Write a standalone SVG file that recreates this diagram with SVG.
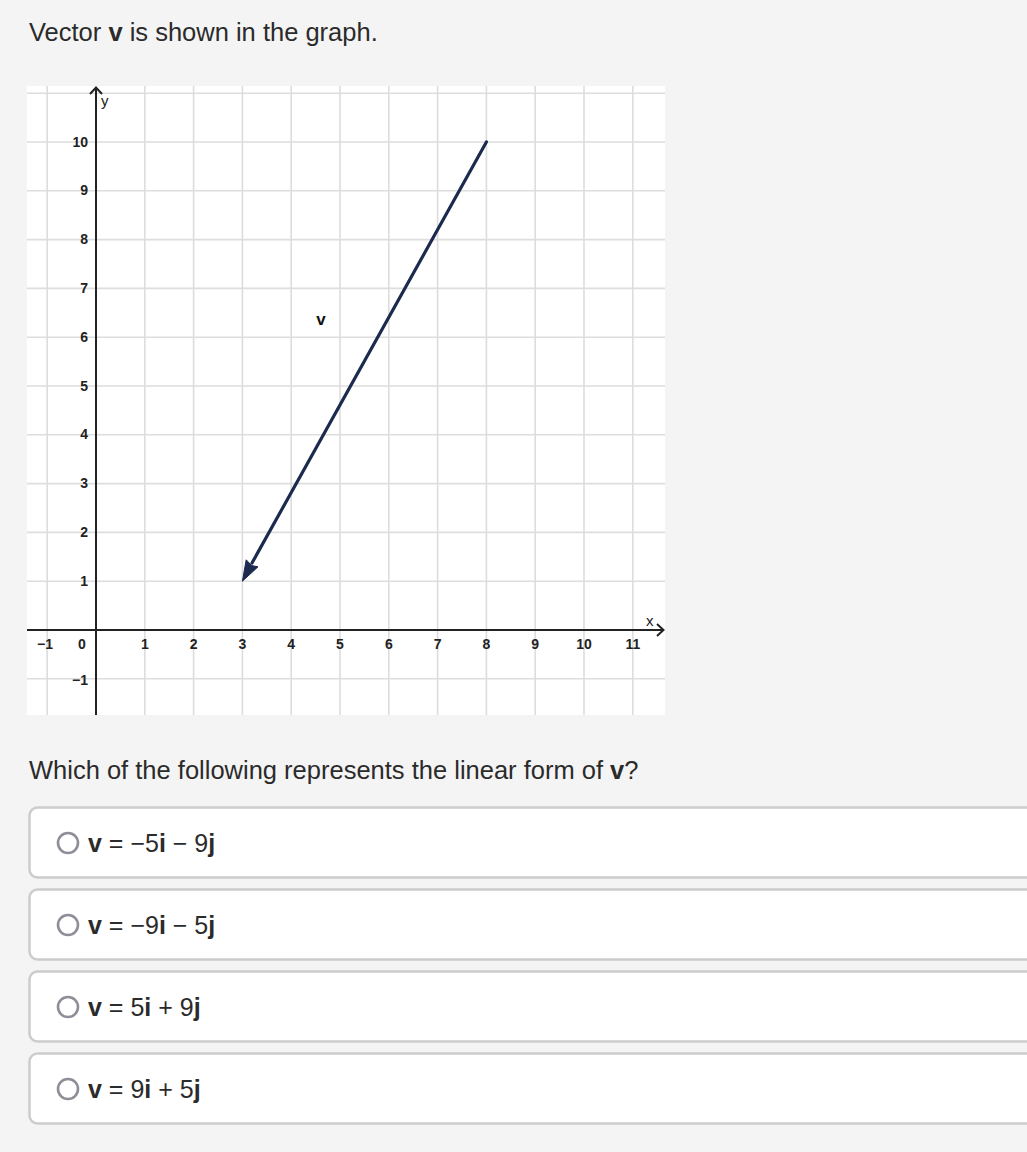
<svg xmlns="http://www.w3.org/2000/svg" width="1027" height="1152" viewBox="0 0 1027 1152">
<style>
.txt{font-family:"Liberation Sans",Arial,sans-serif;font-size:25px;fill:#2b2b2b}
.hd{font-size:25.5px}
.b{font-weight:bold}
.grid line{stroke:#dddddd;stroke-width:1.6}
.tick{font-family:"Liberation Sans",Arial,sans-serif;font-size:14px;font-weight:bold;fill:#222}
.ax{font-family:"Liberation Sans",Arial,sans-serif;font-size:15px;fill:#222}
.opt{fill:#ffffff;stroke:#cccccc;stroke-width:2.5}
.radio{fill:#ffffff;stroke:#8e8e99;stroke-width:2.6}
</style>
<rect x="0" y="0" width="1027" height="1152" fill="#f4f4f4"/>
<text id="title" class="txt hd" x="29" y="41">Vector <tspan class="b">v</tspan> is shown in the graph.</text>

<g id="graph">
<rect x="27" y="86" width="638" height="629" fill="#ffffff"/>
<g class="grid">
<line x1="47.2" y1="86" x2="47.2" y2="715"/>
<line x1="144.8" y1="86" x2="144.8" y2="715"/>
<line x1="193.6" y1="86" x2="193.6" y2="715"/>
<line x1="242.4" y1="86" x2="242.4" y2="715"/>
<line x1="291.2" y1="86" x2="291.2" y2="715"/>
<line x1="340" y1="86" x2="340" y2="715"/>
<line x1="388.8" y1="86" x2="388.8" y2="715"/>
<line x1="437.6" y1="86" x2="437.6" y2="715"/>
<line x1="486.4" y1="86" x2="486.4" y2="715"/>
<line x1="535.2" y1="86" x2="535.2" y2="715"/>
<line x1="584" y1="86" x2="584" y2="715"/>
<line x1="632.8" y1="86" x2="632.8" y2="715"/>
<line x1="27" y1="678.8" x2="665" y2="678.8"/>
<line x1="27" y1="581.2" x2="665" y2="581.2"/>
<line x1="27" y1="532.4" x2="665" y2="532.4"/>
<line x1="27" y1="483.6" x2="665" y2="483.6"/>
<line x1="27" y1="434.8" x2="665" y2="434.8"/>
<line x1="27" y1="386" x2="665" y2="386"/>
<line x1="27" y1="337.2" x2="665" y2="337.2"/>
<line x1="27" y1="288.4" x2="665" y2="288.4"/>
<line x1="27" y1="239.6" x2="665" y2="239.6"/>
<line x1="27" y1="190.8" x2="665" y2="190.8"/>
<line x1="27" y1="142" x2="665" y2="142"/>
<line x1="27" y1="93.2" x2="665" y2="93.2"/>
</g>
<g id="axes" stroke="#222" stroke-width="2" fill="none">
<line x1="27" y1="630" x2="663" y2="630"/>
<path d="M657,624 L663.5,630 L657,636"/>
<line x1="96" y1="715" x2="96" y2="88"/>
<path d="M90,94 L96,87.5 L102,94"/>
</g>
<text class="ax" x="101" y="106">y</text>
<text class="ax" x="646" y="626">x</text>
<g id="xticks" class="tick" text-anchor="middle">
<text x="45" y="649">−1</text>
<text x="82" y="649">0</text>
<text x="144.8" y="649">1</text>
<text x="193.6" y="649">2</text>
<text x="242.4" y="649">3</text>
<text x="291.2" y="649">4</text>
<text x="340" y="649">5</text>
<text x="388.8" y="649">6</text>
<text x="437.6" y="649">7</text>
<text x="486.4" y="649">8</text>
<text x="535.2" y="649">9</text>
<text x="584" y="649">10</text>
<text x="632.8" y="649">11</text>
</g>
<g id="yticks" class="tick" text-anchor="end">
<text x="88" y="685">−1</text>
<text x="88" y="586">1</text>
<text x="88" y="537">2</text>
<text x="88" y="488">3</text>
<text x="88" y="439">4</text>
<text x="88" y="391">5</text>
<text x="88" y="342">6</text>
<text x="88" y="293">7</text>
<text x="88" y="244">8</text>
<text x="88" y="195">9</text>
<text x="88" y="147">10</text>
</g>
</g>

<g id="connectors">
<line id="vector-v" x1="486.4" y1="142" x2="252" y2="563" stroke="#1b2a4e" stroke-width="3.2" stroke-linecap="round"/>
<polygon points="242.4,581.2 246.2,559.8 251.5,565.5 258,566.8" fill="#1b2a4e" stroke="#1b2a4e" stroke-width="1" stroke-linejoin="round"/>
</g>
<text id="label-v" x="321" y="325" text-anchor="middle" font-family="'Liberation Sans',Arial,sans-serif" font-size="17" font-weight="bold" fill="#111">v</text>

<text id="question" class="txt hd" x="29" y="779">Which of the following represents the linear form of <tspan class="b">v</tspan>?</text>

<g id="option1">
<rect class="opt" x="29.5" y="807.5" width="1010" height="70" rx="8"/>
<circle class="radio" cx="68" cy="843" r="10"/>
<text class="txt" x="88" y="852"><tspan class="b">v</tspan> = −5<tspan class="b">i</tspan> − 9<tspan class="b">j</tspan></text>
</g>
<g id="option2">
<rect class="opt" x="29.5" y="889.5" width="1010" height="70" rx="8"/>
<circle class="radio" cx="68" cy="925" r="10"/>
<text class="txt" x="88" y="934"><tspan class="b">v</tspan> = −9<tspan class="b">i</tspan> − 5<tspan class="b">j</tspan></text>
</g>
<g id="option3">
<rect class="opt" x="29.5" y="971.5" width="1010" height="70" rx="8"/>
<circle class="radio" cx="68" cy="1007" r="10"/>
<text class="txt" x="88" y="1016"><tspan class="b">v</tspan> = 5<tspan class="b">i</tspan> + 9<tspan class="b">j</tspan></text>
</g>
<g id="option4">
<rect class="opt" x="29.5" y="1053.5" width="1010" height="70" rx="8"/>
<circle class="radio" cx="68" cy="1089" r="10"/>
<text class="txt" x="88" y="1098"><tspan class="b">v</tspan> = 9<tspan class="b">i</tspan> + 5<tspan class="b">j</tspan></text>
</g>
</svg>
